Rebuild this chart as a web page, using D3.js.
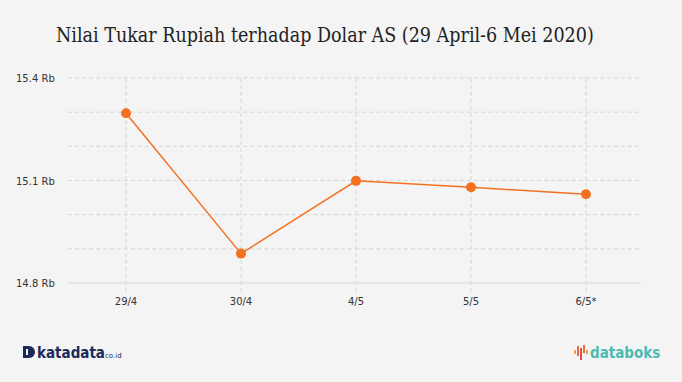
<!DOCTYPE html>
<html><head><meta charset="utf-8">
<script src="https://cdn.jsdelivr.net/npm/d3@7"></script>
<style>body{margin:0;background:#f4f4f4;}svg{display:block;}</style>
</head><body>
<svg id="c" width="682" height="382"></svg>
<script>
const categories = ["29/4","30/4","4/5","5/5","6/5*"];
const values = [15.297, 14.886, 15.099, 15.080, 15.060];
const yTicks = [14.8, 14.9, 15.0, 15.1, 15.2, 15.3, 15.4];
const yLabelTicks = [14.8, 15.1, 15.4];
const title = "Nilai Tukar Rupiah terhadap Dolar AS (29 April-6 Mei 2020)";

const svg = d3.select("#c");
svg.append("rect").attr("width",682).attr("height",382).attr("fill","#f4f4f4");

const x = d3.scalePoint().domain(categories).range([126, 586]);
const y = d3.scaleLinear().domain([14.8, 15.4]).range([283, 78]);
const gx0 = 68, gx1 = 641;

svg.append("text").attr("x",56).attr("y",42).attr("font-family","'DejaVu Serif Condensed','DejaVu Serif',serif")
  .attr("font-size",19.5).attr("fill","#222").text(title);

// horizontal gridlines
svg.append("g").selectAll("line").data(yTicks.filter(d=>d!==14.8)).join("line")
  .attr("x1",gx0).attr("x2",gx1).attr("y1",d=>y(d)).attr("y2",d=>y(d))
  .attr("stroke","#d6d6d6").attr("stroke-dasharray","4,3");
// vertical gridlines
svg.append("g").selectAll("line").data(categories).join("line")
  .attr("x1",d=>x(d)).attr("x2",d=>x(d)).attr("y1",78).attr("y2",292)
  .attr("stroke","#d6d6d6").attr("stroke-dasharray","4,3");
// baseline
svg.append("line").attr("x1",gx0).attr("x2",gx1).attr("y1",y(14.8)).attr("y2",y(14.8))
  .attr("stroke","#d9d9d9").attr("stroke-width",1);

// y labels
svg.append("g").selectAll("text").data(yLabelTicks).join("text")
  .attr("x",16).attr("y",d=>y(d)+4).attr("font-family","'DejaVu Sans',sans-serif")
  .attr("font-size",10).attr("fill","#333").text(d=>d3.format(".1f")(d)+" Rb");
// x labels
svg.append("g").selectAll("text").data(categories).join("text")
  .attr("x",d=>x(d)).attr("y",305).attr("text-anchor","middle").attr("font-family","'DejaVu Sans',sans-serif")
  .attr("font-size",10).attr("fill","#333").text(d=>d);

const line = d3.line().x((d,i)=>x(categories[i])).y(d=>y(d));
svg.append("path").datum(values).attr("d",line).attr("fill","none").attr("stroke","#f37021").attr("stroke-width",1.5);
svg.append("g").selectAll("circle").data(values).join("circle")
  .attr("cx",(d,i)=>x(categories[i])).attr("cy",d=>y(d)).attr("r",5).attr("fill","#f37021");

// logos
const kd = svg.append("g");
kd.append("path").attr("d","M23,346 h6 a6,6 0 0 1 0,12 h-6 z").attr("fill","#1b2a5a");
kd.append("rect").attr("x",26).attr("y",349).attr("width",2).attr("height",6).attr("fill","#f4f4f4");
kd.append("text").attr("x",37).attr("y",358).attr("font-family","'DejaVu Sans Condensed','DejaVu Sans',sans-serif")
  .attr("font-weight","bold").attr("font-size",15).attr("fill","#1b2a5a").text("katadata");
kd.append("text").attr("x",105).attr("y",358).attr("font-family","'DejaVu Sans',sans-serif")
  .attr("font-size",7).attr("fill","#1b2a5a").text("co.id");

const db = svg.append("g");
const bars = [[574,350,4,"#f0a050"],[577,346,10,"#ec6a3c"],[580,348,12,"#e34a4a"],[583,345,8,"#ec6a3c"],[586,350,4,"#f0a050"]];
db.selectAll("rect").data(bars).join("rect").attr("x",d=>d[0]).attr("y",d=>d[1]).attr("width",2).attr("height",d=>d[2]).attr("fill",d=>d[3]);
db.append("text").attr("x",590).attr("y",358).attr("font-family","'DejaVu Sans Condensed','DejaVu Sans',sans-serif")
  .attr("font-weight","bold").attr("font-size",15).attr("fill","#4dbab2").text("databoks");
</script>
</body></html>
